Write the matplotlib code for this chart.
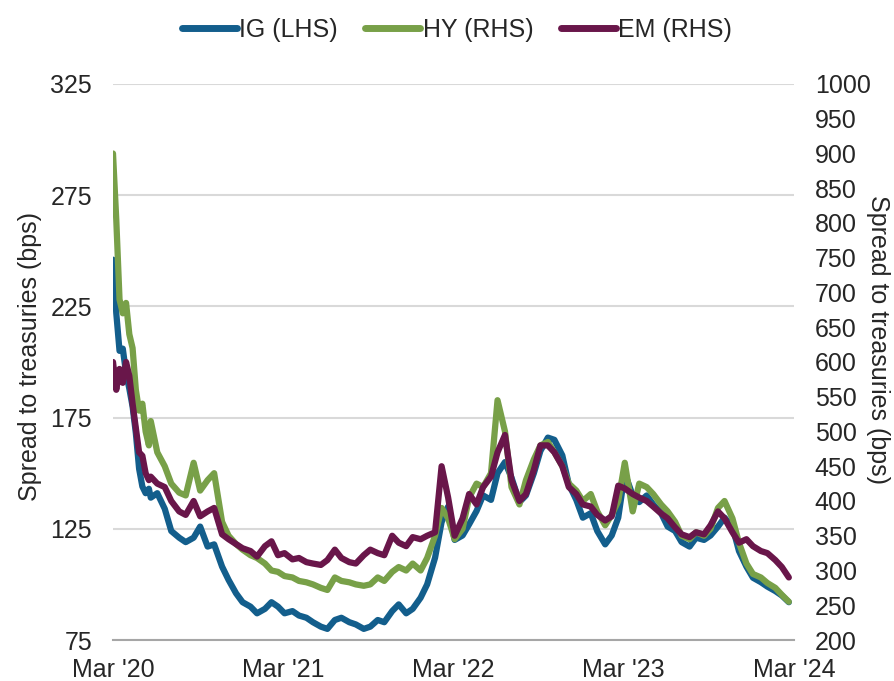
import numpy as np
import pandas as pd
import matplotlib
matplotlib.use("Agg")
import matplotlib.pyplot as plt

# —— 数据：周度（2020 年 3–5 月）+ 半月度 —— #
dates = list(pd.date_range("2020-03-12", "2020-05-28", freq="7D")) + \
        list(pd.date_range("2020-06-01", "2024-03-01", freq="SMS"))

# IG 利差（左轴）
ig = [246, 222, 205, 206, 195, 188, 180, 168, 152, 144, 141, 143,
      139, 141, 134, 124, 121, 119, 121, 126, 117, 118, 108, 102, 96, 92,
      90, 87, 89, 92, 90, 87, 88, 86, 85, 83, 81, 80, 84, 85, 83, 82, 80, 81, 84, 83, 88, 91, 87, 89,
      94, 100, 112, 128, 135, 120, 122, 127, 133, 140, 138, 150, 155, 148, 137, 140, 150, 160, 166, 165, 158, 145, 138, 130,
      132, 124, 118, 122, 130, 150, 140, 137, 140, 136, 132, 126, 124, 119, 117, 121, 120, 122, 126, 130, 126, 115, 108, 103,
      101, 99, 97, 95, 92]

# HY 利差（右轴）
hy = [900, 805, 690, 670, 685, 640, 620, 560, 530, 540, 500, 480,
      515, 470, 450, 425, 412, 408, 455, 415, 430, 440, 370, 350, 338, 330,
      322, 318, 310, 300, 298, 292, 290, 285, 283, 280, 275, 272, 290, 285, 283, 280, 278, 280, 290, 285, 298, 305, 300, 310,
      300, 318, 350, 390, 375, 345, 360, 405, 425, 420, 440, 545, 500, 420, 395, 430, 460, 480, 485, 470, 450, 425, 415, 400,
      410, 385, 365, 380, 400, 455, 385, 425, 420, 410, 395, 385, 370, 350, 345, 355, 350, 360, 390, 400, 375, 340, 310, 295,
      290, 282, 275, 265, 255]

# EM 利差（右轴）
em = [600, 560, 590, 570, 600, 580, 540, 505, 470, 465, 440, 430,
      435, 425, 420, 400, 385, 380, 400, 378, 385, 390, 352, 345, 338, 332,
      328, 320, 335, 342, 322, 325, 316, 318, 312, 310, 308, 315, 330, 318, 312, 310, 322, 330, 325, 322, 350, 340, 335, 348,
      345, 350, 355, 450, 405, 350, 375, 410, 395, 420, 435, 470, 495, 430, 400, 410, 445, 480, 480, 470, 450, 420, 410, 395,
      392, 380, 372, 378, 422, 418, 410, 405, 400, 392, 382, 375, 362, 352, 348, 355, 352, 365, 385, 375, 355, 340, 345, 335,
      328, 325, 315, 305, 290]

tick_dates = pd.to_datetime(["2020-03-12", "2021-03-12", "2022-03-12", "2023-03-12", "2024-03-12"])
tick_labels = ["Mar '20", "Mar '21", "Mar '22", "Mar '23", "Mar '24"]
left_ticks = [75, 125, 175, 225, 275, 325]
right_ticks = list(range(200, 1001, 50))

series_labels = ["IG (LHS)", "HY (RHS)", "EM (RHS)"]
colors = ["#135E8C", "#78A048", "#69164A"]
ylabel = "Spread to treasuries (bps)"

assert len(dates) == len(ig) == len(hy) == len(em)

plt.rcParams["font.family"] = ["Liberation Sans", "DejaVu Sans"]
FS = 18
TXT = "#262626"

fig = plt.figure(figsize=(8.94, 6.81), dpi=100)
ax = fig.add_axes([0.1264, 0.0602, 0.7617, 0.8165])
ax2 = ax.twinx()

lw = 4.5
l1, = ax.plot(dates, ig, color=colors[0], lw=lw, solid_joinstyle="round", solid_capstyle="round")
l2, = ax2.plot(dates, hy, color=colors[1], lw=lw, solid_joinstyle="round", solid_capstyle="round")
l3, = ax2.plot(dates, em, color=colors[2], lw=lw, solid_joinstyle="round", solid_capstyle="round")

ax.set_ylim(75, 325); ax.set_yticks(left_ticks)
ax2.set_ylim(200, 1000); ax2.set_yticks(right_ticks)
ax.set_xlim(tick_dates[0], tick_dates[-1])
ax.set_xticks(tick_dates); ax.set_xticklabels(tick_labels)

ax.set_axisbelow(True)
ax.yaxis.grid(True, color="#D9D9D9", lw=1.5)
for s in ["top", "left", "right"]:
    ax.spines[s].set_visible(False)
for s in ax2.spines.values():
    s.set_visible(False)
ax.spines["bottom"].set_color("#A6A6A6"); ax.spines["bottom"].set_linewidth(1.5)

ax.tick_params(axis="y", length=0, pad=15, labelsize=FS, labelcolor=TXT)
ax.tick_params(axis="x", length=0, pad=13, labelsize=FS, labelcolor=TXT)
ax2.tick_params(axis="y", length=0, pad=15, labelsize=FS, labelcolor=TXT)

ax.set_ylabel(ylabel, fontsize=FS, color=TXT, va="center")
ax.yaxis.set_label_coords(-0.122, 0.51)
ax2.set_ylabel(ylabel, fontsize=FS, color=TXT, rotation=270, va="center", ha="center")
ax2.yaxis.set_label_coords(1.124, 0.54)

fig.legend([l1, l2, l3], series_labels, loc="center", bbox_to_anchor=(0.511, 0.956), ncol=3,
           frameon=False, fontsize=FS, handlelength=2.2, handletextpad=0.1, columnspacing=1.1,
           labelcolor=TXT)
for h in fig.legends[0].get_lines():
    h.set_linewidth(5)

fig.savefig("out.png", dpi=100)
plt.close(fig)
